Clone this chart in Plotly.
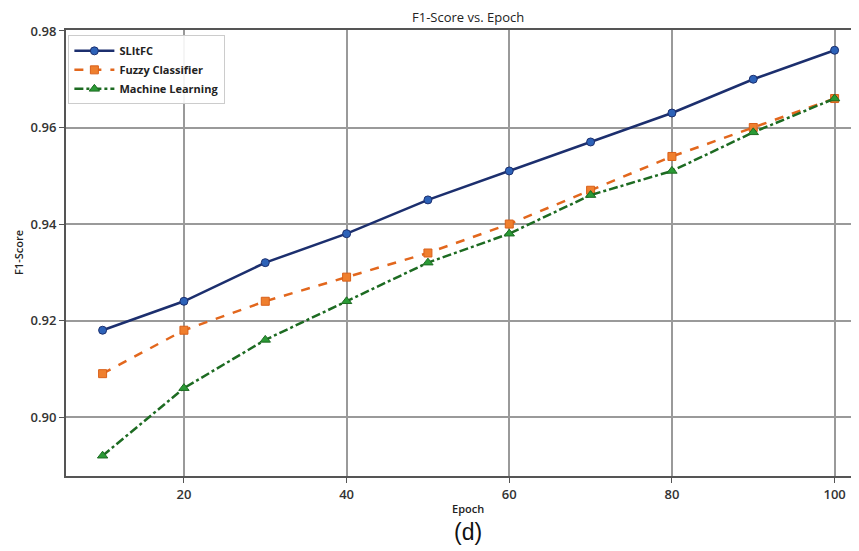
import plotly.graph_objects as go

epochs = [10, 20, 30, 40, 50, 60, 70, 80, 90, 100]
slitfc = [0.918, 0.924, 0.932, 0.938, 0.945, 0.951, 0.957, 0.963, 0.970, 0.976]
fuzzy = [0.909, 0.918, 0.924, 0.929, 0.934, 0.940, 0.947, 0.954, 0.960, 0.966]
ml = [0.892, 0.906, 0.916, 0.924, 0.932, 0.938, 0.946, 0.951, 0.959, 0.966]
x_ticks = [20, 40, 60, 80, 100]
y_ticks = [0.90, 0.92, 0.94, 0.96, 0.98]

# page is offset by the 8px default body margin
OFF = 8
W, H = 859 - OFF, 551 - OFF
L, R, T = 66 - OFF, 0, 30 - OFF
B = H - (476 - OFF)

fig = go.Figure()
fig.add_trace(go.Scatter(x=epochs, y=slitfc, name="SLItFC", mode="lines+markers",
                         line=dict(color="#1c2f6e", width=2.5),
                         marker=dict(symbol="circle", size=8, color="#2d62b8",
                                     line=dict(color="#1c2f6e", width=1))))
fig.add_trace(go.Scatter(x=epochs, y=fuzzy, name="Fuzzy Classifier", mode="lines+markers",
                         line=dict(color="#e2671d", width=2.5, dash="dash"),
                         marker=dict(symbol="square", size=8, color="#ef7f2e",
                                     line=dict(color="#d9601a", width=1))))
fig.add_trace(go.Scatter(x=epochs, y=ml, name="Machine Learning", mode="lines+markers",
                         line=dict(color="#1d6b22", width=2.5, dash="dashdot"),
                         marker=dict(symbol="triangle-up", size=9, color="#2a9a35",
                                     line=dict(color="#1d6b22", width=1))))

font_fam = "Open Sans, DejaVu Sans, sans-serif"
plot_w = W - L - R
plot_h = H - T - B
title_x = (468 - OFF - L) / plot_w


def py(page_y):
    """paper y for a page pixel y"""
    fy = page_y - OFF
    return 1 - (fy - T) / plot_h


fig.update_layout(
    width=W, height=H,
    margin=dict(l=L, r=R, t=T, b=B, pad=0, autoexpand=False),
    paper_bgcolor="white", plot_bgcolor="white",
    font=dict(family=font_fam, color="#333333", size=12),
    showlegend=True,
    legend=dict(x=0.003, y=0.988, xanchor="left", yanchor="top",
                bgcolor="rgba(255,255,255,0.9)", bordercolor="#cccccc", borderwidth=1,
                font=dict(size=11, family=font_fam, weight=700, color="#222222"),
                tracegroupgap=0, itemwidth=40),
    xaxis=dict(range=[5.5, 103.0], tickmode="array", tickvals=x_ticks,
               ticktext=[str(v) for v in x_ticks], automargin=False,
               showgrid=True, gridcolor="#9a9a9a", gridwidth=1.5,
               showline=True, linecolor="#555555", linewidth=2, mirror=True,
               ticks="outside", ticklen=5, tickcolor="#555555",
               tickfont=dict(size=13, weight=600, color="#333333"),
               zeroline=False),
    yaxis=dict(range=[0.8878, 0.9802], tickmode="array", tickvals=y_ticks,
               ticktext=[f"{v:.2f}" for v in y_ticks], automargin=False,
               showgrid=True, gridcolor="#9a9a9a", gridwidth=1.5,
               showline=True, linecolor="#555555", linewidth=2, mirror=False,
               ticks="outside", ticklen=5, tickcolor="#555555",
               tickfont=dict(size=13, weight=600, color="#333333"),
               zeroline=False),
    annotations=[
        dict(text="F1-Score vs. Epoch", xref="paper", yref="paper",
             x=title_x, y=py(17), xanchor="center", yanchor="middle",
             showarrow=False, font=dict(size=13, color="#222222", family=font_fam, weight=500)),
        dict(text="Epoch", xref="paper", yref="paper",
             x=title_x, y=py(508), xanchor="center", yanchor="middle",
             showarrow=False, font=dict(size=11, color="#222222", family=font_fam, weight=600)),
        dict(text="(d)", xref="paper", yref="paper",
             x=title_x, y=py(532), xanchor="center", yanchor="middle",
             showarrow=False, font=dict(size=23, color="#111111", family="Liberation Sans, Arial, sans-serif")),
        dict(text="F1-Score", xref="paper", yref="paper", textangle=-90,
             x=-(L - (18 - OFF)) / plot_w, y=0.5, xanchor="center", yanchor="middle",
             showarrow=False, font=dict(size=11, color="#222222", family=font_fam, weight=600)),
    ],
)

fig.write_html("out.html")
